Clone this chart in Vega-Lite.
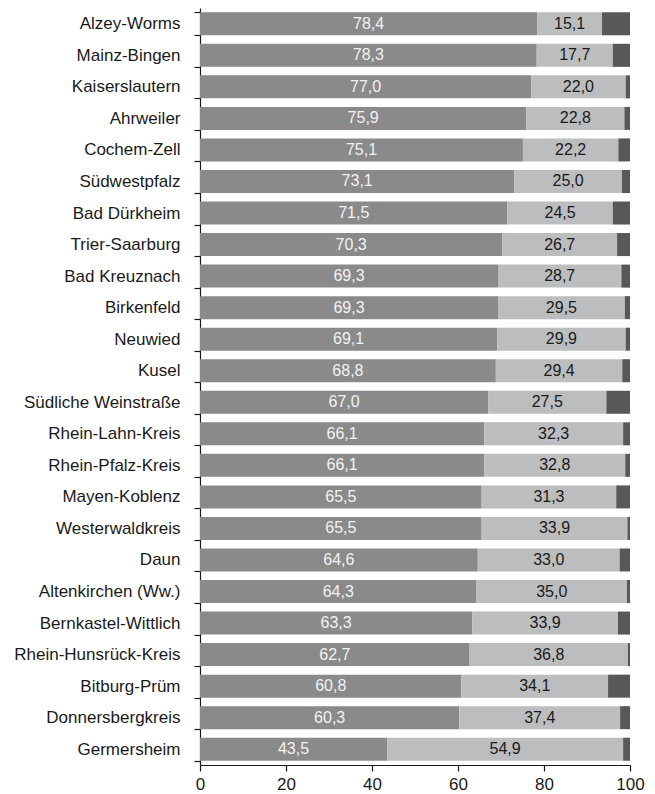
{
  "$schema": "https://vega.github.io/schema/vega-lite/v6.json",
  "width": 430,
  "height": 757,
  "autosize": "none",
  "padding": {"left": 200, "top": 8, "right": 25, "bottom": 29},
  "background": "white",
  "config": {
    "view": {"stroke": null},
    "font": "Liberation Sans",
    "locale": {"number": {"decimal": ",", "thousands": ".", "grouping": [3], "currency": ["", " €"]}}
  },
  "data": {"values": [
    {"region": "Alzey-Worms", "seg": 1, "value": 78.4}, {"region": "Alzey-Worms", "seg": 2, "value": 15.1}, {"region": "Alzey-Worms", "seg": 3, "value": 6.5},
    {"region": "Mainz-Bingen", "seg": 1, "value": 78.3}, {"region": "Mainz-Bingen", "seg": 2, "value": 17.7}, {"region": "Mainz-Bingen", "seg": 3, "value": 4.0},
    {"region": "Kaiserslautern", "seg": 1, "value": 77.0}, {"region": "Kaiserslautern", "seg": 2, "value": 22.0}, {"region": "Kaiserslautern", "seg": 3, "value": 1.0},
    {"region": "Ahrweiler", "seg": 1, "value": 75.9}, {"region": "Ahrweiler", "seg": 2, "value": 22.8}, {"region": "Ahrweiler", "seg": 3, "value": 1.3},
    {"region": "Cochem-Zell", "seg": 1, "value": 75.1}, {"region": "Cochem-Zell", "seg": 2, "value": 22.2}, {"region": "Cochem-Zell", "seg": 3, "value": 2.7},
    {"region": "Südwestpfalz", "seg": 1, "value": 73.1}, {"region": "Südwestpfalz", "seg": 2, "value": 25.0}, {"region": "Südwestpfalz", "seg": 3, "value": 1.9},
    {"region": "Bad Dürkheim", "seg": 1, "value": 71.5}, {"region": "Bad Dürkheim", "seg": 2, "value": 24.5}, {"region": "Bad Dürkheim", "seg": 3, "value": 4.0},
    {"region": "Trier-Saarburg", "seg": 1, "value": 70.3}, {"region": "Trier-Saarburg", "seg": 2, "value": 26.7}, {"region": "Trier-Saarburg", "seg": 3, "value": 3.0},
    {"region": "Bad Kreuznach", "seg": 1, "value": 69.3}, {"region": "Bad Kreuznach", "seg": 2, "value": 28.7}, {"region": "Bad Kreuznach", "seg": 3, "value": 2.0},
    {"region": "Birkenfeld", "seg": 1, "value": 69.3}, {"region": "Birkenfeld", "seg": 2, "value": 29.5}, {"region": "Birkenfeld", "seg": 3, "value": 1.2},
    {"region": "Neuwied", "seg": 1, "value": 69.1}, {"region": "Neuwied", "seg": 2, "value": 29.9}, {"region": "Neuwied", "seg": 3, "value": 1.0},
    {"region": "Kusel", "seg": 1, "value": 68.8}, {"region": "Kusel", "seg": 2, "value": 29.4}, {"region": "Kusel", "seg": 3, "value": 1.8},
    {"region": "Südliche Weinstraße", "seg": 1, "value": 67.0}, {"region": "Südliche Weinstraße", "seg": 2, "value": 27.5}, {"region": "Südliche Weinstraße", "seg": 3, "value": 5.5},
    {"region": "Rhein-Lahn-Kreis", "seg": 1, "value": 66.1}, {"region": "Rhein-Lahn-Kreis", "seg": 2, "value": 32.3}, {"region": "Rhein-Lahn-Kreis", "seg": 3, "value": 1.6},
    {"region": "Rhein-Pfalz-Kreis", "seg": 1, "value": 66.1}, {"region": "Rhein-Pfalz-Kreis", "seg": 2, "value": 32.8}, {"region": "Rhein-Pfalz-Kreis", "seg": 3, "value": 1.1},
    {"region": "Mayen-Koblenz", "seg": 1, "value": 65.5}, {"region": "Mayen-Koblenz", "seg": 2, "value": 31.3}, {"region": "Mayen-Koblenz", "seg": 3, "value": 3.2},
    {"region": "Westerwaldkreis", "seg": 1, "value": 65.5}, {"region": "Westerwaldkreis", "seg": 2, "value": 33.9}, {"region": "Westerwaldkreis", "seg": 3, "value": 0.6},
    {"region": "Daun", "seg": 1, "value": 64.6}, {"region": "Daun", "seg": 2, "value": 33.0}, {"region": "Daun", "seg": 3, "value": 2.4},
    {"region": "Altenkirchen (Ww.)", "seg": 1, "value": 64.3}, {"region": "Altenkirchen (Ww.)", "seg": 2, "value": 35.0}, {"region": "Altenkirchen (Ww.)", "seg": 3, "value": 0.7},
    {"region": "Bernkastel-Wittlich", "seg": 1, "value": 63.3}, {"region": "Bernkastel-Wittlich", "seg": 2, "value": 33.9}, {"region": "Bernkastel-Wittlich", "seg": 3, "value": 2.8},
    {"region": "Rhein-Hunsrück-Kreis", "seg": 1, "value": 62.7}, {"region": "Rhein-Hunsrück-Kreis", "seg": 2, "value": 36.8}, {"region": "Rhein-Hunsrück-Kreis", "seg": 3, "value": 0.5},
    {"region": "Bitburg-Prüm", "seg": 1, "value": 60.8}, {"region": "Bitburg-Prüm", "seg": 2, "value": 34.1}, {"region": "Bitburg-Prüm", "seg": 3, "value": 5.1},
    {"region": "Donnersbergkreis", "seg": 1, "value": 60.3}, {"region": "Donnersbergkreis", "seg": 2, "value": 37.4}, {"region": "Donnersbergkreis", "seg": 3, "value": 2.3},
    {"region": "Germersheim", "seg": 1, "value": 43.5}, {"region": "Germersheim", "seg": 2, "value": 54.9}, {"region": "Germersheim", "seg": 3, "value": 1.6}
  ]},
  "transform": [
    {"stack": "value", "groupby": ["region"], "sort": [{"field": "seg", "order": "ascending"}], "as": ["x0", "x1"]},
    {"calculate": "(datum.x0 + datum.x1) / 2", "as": "xmid"}
  ],
  "encoding": {
    "y": {
      "field": "region", "type": "nominal", "sort": null, "title": null,
      "scale": {"paddingInner": 0.27, "paddingOuter": 0.135},
      "axis": {
        "tickBand": "extent", "tickSize": 6, "tickColor": "#1a1a1a", "domainColor": "#1a1a1a",
        "tickWidth": 1.2, "domainWidth": 1.2,
        "labelFontSize": 17, "labelColor": "#1a1a1a", "labelPadding": 14, "labelFont": "Liberation Sans", "labelLimit": 300
      }
    }
  },
  "layer": [
    {
      "mark": {"type": "bar"},
      "encoding": {
        "x": {"field": "x0", "type": "quantitative", "title": null,
          "scale": {"domain": [0, 100], "nice": false},
          "axis": {"values": [0, 20, 40, 60, 80, 100], "grid": false, "tickSize": 6, "tickColor": "#1a1a1a", "domainColor": "#1a1a1a", "tickWidth": 1.2, "domainWidth": 1.2, "labelFontSize": 17, "labelColor": "#1a1a1a", "labelPadding": 5, "labelFont": "Liberation Sans", "labelFlush": false}},
        "x2": {"field": "x1"},
        "color": {"field": "seg", "type": "nominal", "legend": null,
          "scale": {"domain": [1, 2, 3], "range": ["#8a8a8b", "#bcbdbe", "#58585a"]}}
      }
    },
    {
      "transform": [{"filter": "datum.seg == 1"}],
      "mark": {"type": "text", "fontSize": 16, "font": "Liberation Sans", "baseline": "middle", "align": "center", "color": "#f2f2f2"},
      "encoding": {
        "x": {"field": "xmid", "type": "quantitative"},
        "text": {"field": "value", "type": "quantitative", "format": ".1f"}
      }
    },
    {
      "transform": [{"filter": "datum.seg == 2"}],
      "mark": {"type": "text", "fontSize": 16, "font": "Liberation Sans", "baseline": "middle", "align": "center", "color": "#1a1a1a"},
      "encoding": {
        "x": {"field": "xmid", "type": "quantitative"},
        "text": {"field": "value", "type": "quantitative", "format": ".1f"}
      }
    }
  ]
}
